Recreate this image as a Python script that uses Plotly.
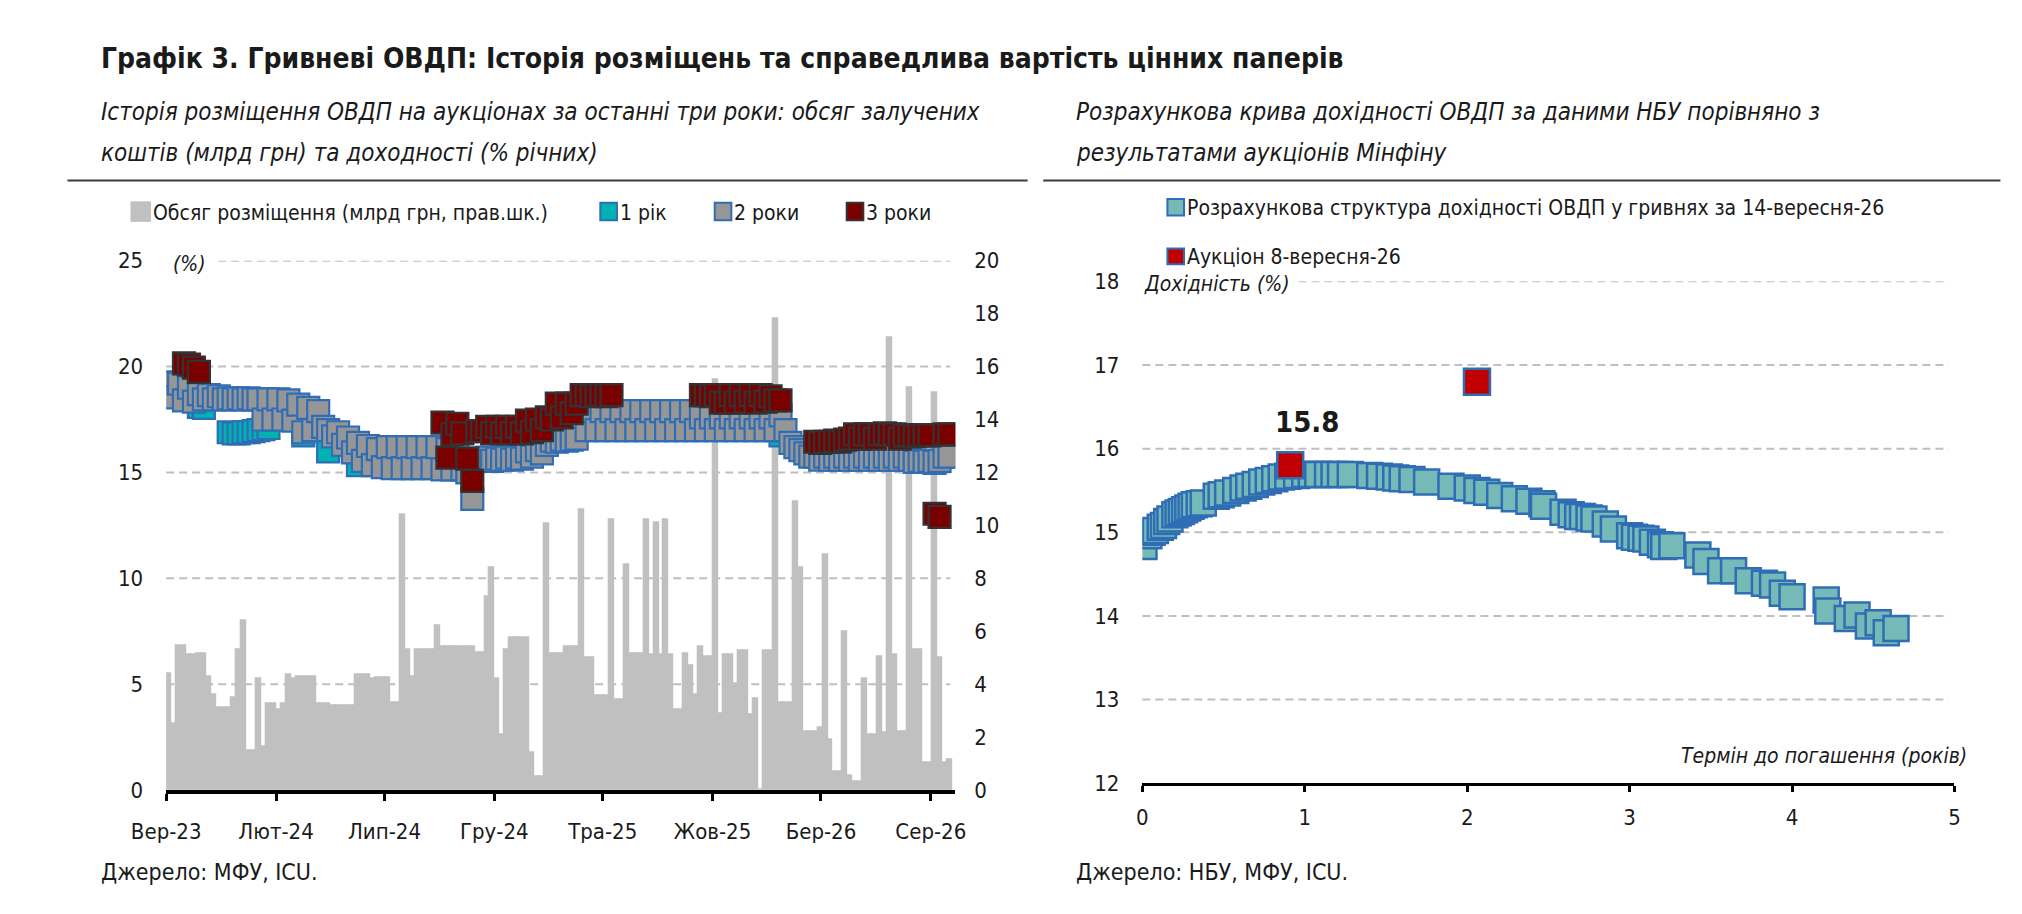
import pandas as pd
import plotly.graph_objects as go

W, H = 2022, 914
FONT = "Liberation Sans Narrow, Arial Narrow, DejaVu Sans Condensed, Liberation Sans, Arial, sans-serif"
INK = "#1a1a1a"

# ---------------- left panel: weekly auction placements ----------------
first_auction = "2023-09-05"
last_auction = "2026-08-27"

# placement volume, bn UAH (right axis)
volume_bn = [
    4.4, 2.5, 5.45, 5.45, 5.1, 5.1, 5.15, 5.15, 4.3, 3.6,
    3.1, 3.1, 3.1, 3.5, 5.3, 6.4, 1.5, 1.5, 4.2, 1.65,
    3.25, 3.25, 3.05, 3.25, 4.35, 4.2, 4.3, 4.3, 4.3, 4.3,
    3.25, 3.25, 3.25, 3.2, 3.2, 3.2, 3.2, 3.2, 4.35, 4.35,
    4.35, 4.2, 4.25, 4.25, 4.25, 3.3, 3.3, 10.4, 5.3, 4.3,
    5.3, 5.3, 5.3, 5.3, 6.2, 5.4, 5.4, 5.4, 5.4, 5.4,
    5.4, 5.4, 5.2, 5.2, 7.3, 8.4, 4.2, 2.1, 5.3, 5.75,
    5.75, 5.75, 5.75, 1.4, 0.5, 0.5, 10.05, 5.15, 5.15, 5.15,
    5.4, 5.4, 5.4, 10.6, 5.0, 5.0, 3.55, 3.55, 3.55, 10.2,
    3.4, 3.4, 8.5, 5.15, 5.15, 5.15, 10.2, 5.1, 10.1, 5.1,
    10.2, 5.1, 3.05, 3.05, 5.15, 4.7, 3.6, 5.4, 5.05, 5.05,
    15.5, 2.9, 5.1, 5.1, 4.0, 5.25, 5.25, 2.85, 3.45, 0.0,
    5.25, 5.25, 17.8, 3.3, 3.3, 3.3, 10.9, 8.4, 2.2, 2.2,
    2.2, 2.35, 8.9, 1.9, 0.7, 0.7, 6.0, 0.55, 0.3, 0.3,
    4.2, 2.1, 2.1, 5.05, 2.15, 17.1, 5.1, 2.2, 2.2, 15.2,
    5.3, 5.3, 1.05, 1.05, 15.0, 5.0, 1.05, 1.15,
]

# 2-year yields, % (left axis), one per placement week
yield_2y = [
    19.25, 18.55, 19.2, 18.4, 19.0, 18.35, 18.7, 18.45, 18.65, 18.45,
    18.6, 18.45, 18.5, 18.45, 18.5, 18.45, 18.5, 18.45, 18.45, 17.5,
    18.45, 17.5, 18.45, 17.5, 18.4, 17.45, 18.2, 16.9, 18.05, 17.0,
    17.9, 17.15, 17.0, 16.7, 16.9, 16.3, 16.65, 15.95, 16.4, 15.55,
    16.25, 15.35, 16.1, 15.25, 16.2, 15.2, 16.2, 15.2, 16.2, 15.2,
    16.2, 15.2, 16.2, 15.2, 16.2, 15.15, 16.1, 15.15, 15.8, 15.15,
    15.0, 13.75, 15.65, 15.6, 15.7, 15.55, 15.65, 15.6, 15.7, 15.6,
    15.7, 15.65, 16.0, 15.75, 16.05, 15.9, 16.3, 16.5, 16.45, 16.55,
    16.5, 16.55, 16.6, 17.9, 17.0, 17.9, 17.0, 17.9, 17.0, 17.9,
    17.0, 17.9, 17.0, 17.9, 17.0, 17.9, 17.0, 17.9, 17.0, 17.9,
    17.0, 17.9, 17.0, 17.9, 17.0, 17.9, 17.0, 17.6, 17.0, 17.6,
    17.0, 17.6, 17.0, 17.6, 17.0, 17.6, 17.0, 17.6, 17.0, 17.6,
    17.0, 17.6, 17.0, 17.7, 17.0, 16.4, 16.2, 16.05, 15.9, 15.75,
    15.75, 15.6, 15.75, 15.6, 15.75, 15.6, 15.75, 15.6, 15.75, 15.6,
    15.75, 15.6, 15.75, 15.6, 15.75, 15.6, 15.75, 15.6, 15.75, 15.6,
    15.5, 15.55, 15.5, 15.55, 15.5, 15.55, 15.75, 15.75,
]

# 1-year placements: week number and yield
y1_week = [6, 7, 12, 13, 14, 15, 16, 17, 18, 19, 20, 27, 32, 38, 59, 123, 154]
y1_val = [18.1, 18.05, 16.9, 16.85, 16.85, 16.9, 16.9, 16.95, 17.0, 17.05,
          17.1, 16.75, 16.0, 15.35, 15.3, 16.75, 15.45]

# 3-year placements: week number and yield
y3_week = [3, 4, 5, 6] + list(range(55, 90)) + list(range(107, 124)) + list(range(130, 158))
y3_val = [
    20.15, 20.1, 19.95, 19.75,
    17.35, 15.7, 16.8, 17.3, 16.85, 15.65, 14.6, 16.95, 16.95, 17.15,
    16.85, 17.15, 16.85, 17.15, 16.85, 17.15, 16.85, 17.45, 16.9, 17.5,
    17.0, 17.6, 17.5, 18.25, 17.6, 18.25, 17.8, 18.25, 18.65, 18.65,
    18.6, 18.65, 18.65, 18.6, 18.65,
    18.65, 18.65, 18.6, 18.65, 18.3, 18.3, 18.65, 18.3, 18.65, 18.35,
    18.65, 18.3, 18.65, 18.35, 18.6, 18.4, 18.4,
    16.45, 16.4, 16.45, 16.45, 16.5, 16.45, 16.55, 16.6, 16.8, 16.6,
    16.8, 16.8, 16.6, 16.8, 16.85, 16.8, 16.8, 16.6, 16.75, 16.75,
    16.7, 16.75, 16.75, 16.75, 13.05, 12.9, 16.8, 16.8,
]

month_ticks = ["2023-09-01", "2024-02-01", "2024-07-01", "2024-12-01",
               "2025-05-01", "2025-10-01", "2026-03-01", "2026-08-01"]
month_labels = ["Вер-23", "Лют-24", "Лип-24", "Гру-24", "Тра-25", "Жов-25", "Бер-26", "Сер-26"]
pct_ticks = [0, 5, 10, 15, 20, 25]
vol_ticks = [0, 2, 4, 6, 8, 10, 12, 14, 16, 18, 20]

# ---------------- right panel: NBU yield curve vs auction ----------------
curve_term = [
    0.01, 0.04, 0.06, 0.08, 0.11, 0.13, 0.15, 0.17, 0.2, 0.22,
    0.24, 0.26, 0.28, 0.3, 0.32, 0.35, 0.375, 0.455, 0.485, 0.525,
    0.575, 0.62, 0.655, 0.695, 0.735, 0.775, 0.815, 0.855, 0.895, 0.95,
    1.0, 1.04, 1.08, 1.14, 1.18, 1.22, 1.28, 1.4, 1.46, 1.52,
    1.56, 1.6, 1.66, 1.75, 1.9, 2.0, 2.06, 2.12, 2.2, 2.29,
    2.38, 2.46, 2.47, 2.59, 2.64, 2.68, 2.71, 2.75, 2.78, 2.85,
    2.9, 3.0, 3.03, 3.07, 3.1, 3.14, 3.19, 3.21, 3.26, 3.42,
    3.47, 3.56, 3.64, 3.73, 3.83, 3.88, 3.94, 4.0, 4.21, 4.22,
    4.34, 4.4, 4.47, 4.53, 4.58, 4.64,
]
curve_yield = [
    14.83, 14.96, 15.0, 15.02, 15.06, 15.08, 15.13, 15.16, 15.21, 15.23,
    15.25, 15.27, 15.29, 15.31, 15.33, 15.34, 15.35, 15.43, 15.45, 15.47,
    15.5, 15.53, 15.55, 15.57, 15.6, 15.62, 15.64, 15.66, 15.67, 15.68,
    15.69, 15.69, 15.69, 15.69, 15.69, 15.69, 15.69, 15.68, 15.67, 15.66,
    15.65, 15.64, 15.63, 15.6, 15.55, 15.53, 15.5, 15.48, 15.44, 15.4,
    15.37, 15.34, 15.31, 15.24, 15.21, 15.19, 15.19, 15.17, 15.16, 15.1,
    15.04, 14.96, 14.94, 14.93, 14.92, 14.88, 14.85, 14.83, 14.84, 14.73,
    14.65, 14.54, 14.54, 14.42, 14.39, 14.37, 14.27, 14.23, 14.19, 14.06,
    13.97, 14.01, 13.88, 13.92, 13.8, 13.85,
]
auction_term = [0.91, 2.06]
auction_yield = [15.8, 16.8]
term_ticks = [0, 1, 2, 3, 4, 5]
curve_ticks = [12, 13, 14, 15, 16, 17, 18]


def fx(p):
    return p / W


def fy(p):
    return 1 - p / H


auction_dates = pd.date_range(first_auction, last_auction, periods=len(volume_bn))
step_ms = (auction_dates[1] - auction_dates[0]).total_seconds() * 1000

BLUE = "#2F6DB5"
fig = go.Figure()

# gray volume columns (right scale)
fig.add_trace(go.Bar(
    x=auction_dates, y=volume_bn, width=step_ms,
    marker=dict(color="#C0C0C0", line=dict(color="#C0C0C0", width=1.5)),
    xaxis="x", yaxis="y",
))
# yields (left scale), drawn 1y -> 2y -> 3y
fig.add_trace(go.Scatter(
    x=[auction_dates[i] for i in y1_week], y=y1_val, mode="markers",
    marker=dict(symbol="square", size=22, color="#00B2B2", line=dict(color=BLUE, width=2.2)),
    xaxis="x", yaxis="y2",
))
fig.add_trace(go.Scatter(
    x=auction_dates, y=yield_2y, mode="markers",
    marker=dict(symbol="square", size=22, color="#969696", line=dict(color=BLUE, width=2.2)),
    xaxis="x", yaxis="y2",
))
fig.add_trace(go.Scatter(
    x=[auction_dates[i] for i in y3_week], y=y3_val, mode="markers",
    marker=dict(symbol="square", size=22, color="#7A0000", line=dict(color="#333333", width=2.2)),
    xaxis="x", yaxis="y2",
))

# right panel
fig.add_trace(go.Scatter(
    x=curve_term, y=curve_yield, mode="markers",
    marker=dict(symbol="square", size=25, color="#75BAB6", line=dict(color=BLUE, width=2.5)),
    xaxis="x2", yaxis="y3",
))
fig.add_trace(go.Scatter(
    x=auction_term, y=auction_yield, mode="markers",
    marker=dict(symbol="square", size=26, color="#C00000", line=dict(color=BLUE, width=2.5)),
    xaxis="x2", yaxis="y3",
))

tick_font = dict(family=FONT, size=22, color=INK)
fig.update_layout(
    width=W, height=H, margin=dict(l=0, r=0, t=0, b=0),
    paper_bgcolor="white", plot_bgcolor="white",
    font=dict(family=FONT, size=22, color=INK),
    showlegend=False, bargap=0,
    xaxis=dict(
        domain=[fx(126), fx(933)], type="date", range=["2023-09-01", "2026-09-04"],
        tickvals=month_ticks, ticktext=month_labels, tickfont=tick_font,
        showgrid=False, zeroline=False, showline=True, linecolor="black", linewidth=4,
        ticks="outside", ticklen=7, tickwidth=3, tickcolor="black",
        ticklabelstandoff=12, anchor="y",
    ),
    yaxis=dict(
        domain=[fy(791.7), fy(247.5)], range=[0, 20], side="right",
        tickvals=vol_ticks, tickfont=tick_font, showgrid=False, zeroline=False,
        showline=False, ticks="", ticklabelstandoff=18, anchor="x",
    ),
    yaxis2=dict(
        overlaying="y", side="left", range=[0, 25], tickvals=pct_ticks,
        tickfont=tick_font, showgrid=False, zeroline=False, showline=False,
        ticks="", ticklabelstandoff=22, anchor="x",
    ),
    xaxis2=dict(
        domain=[fx(1124.4), fx(1955)], range=[0, 5], tickvals=term_ticks,
        tickfont=tick_font, showgrid=False, zeroline=False, showline=True,
        linecolor="black", linewidth=3, ticks="outside", ticklen=6, tickwidth=3,
        tickcolor="black", ticklabelstandoff=6, anchor="y3",
    ),
    yaxis3=dict(
        domain=[fy(784.7), fy(268.7)], range=[12, 18], tickvals=curve_ticks,
        tickfont=tick_font, showgrid=False, zeroline=False, showline=False,
        ticks="", ticklabelstandoff=22, anchor="x2",
    ),
)

# dashed gridlines
GRID = dict(color="#BFBFBF", width=2, dash="8px,5px")
shapes = []
for v in pct_ticks[1:]:
    shapes.append(dict(type="line", layer="below", xref="paper", yref="y2",
                       x0=fx(126), x1=fx(928), y0=v, y1=v, line=GRID))
for v in curve_ticks[1:]:
    shapes.append(dict(type="line", layer="below", xref="paper", yref="y3",
                       x0=fx(1124.4), x1=fx(1949), y0=v, y1=v, line=GRID))
# separators under the subtitles
for x0, x1 in [(25, 1007), (1023, 2002)]:
    shapes.append(dict(type="line", xref="paper", yref="paper",
                       x0=fx(x0), x1=fx(x1), y0=fy(165), y1=fy(165),
                       line=dict(color="#3A3A3A", width=2)))


def box(x0, x1, y0, y1, fill, edge, lw):
    shapes.append(dict(type="rect", xref="paper", yref="paper",
                       x0=fx(x0), x1=fx(x1), y0=fy(y1), y1=fy(y0),
                       fillcolor=fill, line=dict(color=edge, width=lw)))


# legend swatches
box(90, 110, 187, 207, "#C0C0C0", "#C0C0C0", 1)
box(570, 587, 188, 206, "#00B2B2", BLUE, 2)
box(687, 704, 188, 206, "#969696", BLUE, 2)
box(822, 839, 188, 206, "#7A0000", "#333333", 2)
box(1150, 1167, 184, 201, "#75BAB6", BLUE, 2)
box(1150, 1167, 235, 251, "#C00000", BLUE, 2)
fig.update_layout(shapes=shapes)

annotations = []


def text(s, x, y, size=22, anchor="left", italic=False, bold=False, bg=None, pad=0):
    annotations.append(dict(
        text=f"<b>{s}</b>" if bold else s, x=fx(x), y=fy(y), xref="paper", yref="paper",
        xanchor=anchor, yanchor="middle", showarrow=False,
        font=dict(family=FONT, size=size, color=INK, style="italic" if italic else "normal"),
        bgcolor=bg, borderpad=pad,
    ))


text("Графік 3. Гривневі ОВДП: Історія розміщень та справедлива вартість цінних паперів",
     58, 40, size=28, bold=True)
text("Історія розміщення ОВДП на аукціонах за останні три роки: обсяг залучених", 58, 95, size=24, italic=True)
text("коштів (млрд грн) та доходності (% річних)", 58, 137, size=24, italic=True)
text("Розрахункова крива дохідності ОВДП за даними НБУ порівняно з", 1056, 95, size=24, italic=True)
text("результатами аукціонів Мінфіну", 1056, 137, size=24, italic=True)

text("Обсяг розміщення (млрд грн, прав.шк.)", 111, 198, size=21)
text("1 рік", 589, 198, size=21)
text("2 роки", 706, 198, size=21)
text("3 роки", 841, 198, size=21)
text("Розрахункова структура дохідності ОВДП у гривнях за 14-вересня-26", 1169, 193, size=21)
text("Аукціон 8-вересня-26", 1169, 244, size=21)

text("(%)", 150, 251, size=21, anchor="center", italic=True, bg="white", pad=12)
text("Дохідність (%)", 1122, 271, size=21, italic=True, bg="white", pad=3)
text("Термін до погашення (років)", 1969, 757, size=21, anchor="right", italic=True)
text(f"{auction_yield[0]:.1f}", 1293, 413, size=29, anchor="center", bold=True)

text("Джерело: МФУ, ICU.", 58, 876, size=23)
text("Джерело: НБУ, МФУ, ICU.", 1056, 876, size=23)
fig.update_layout(annotations=annotations)

fig.write_html("out.html")
